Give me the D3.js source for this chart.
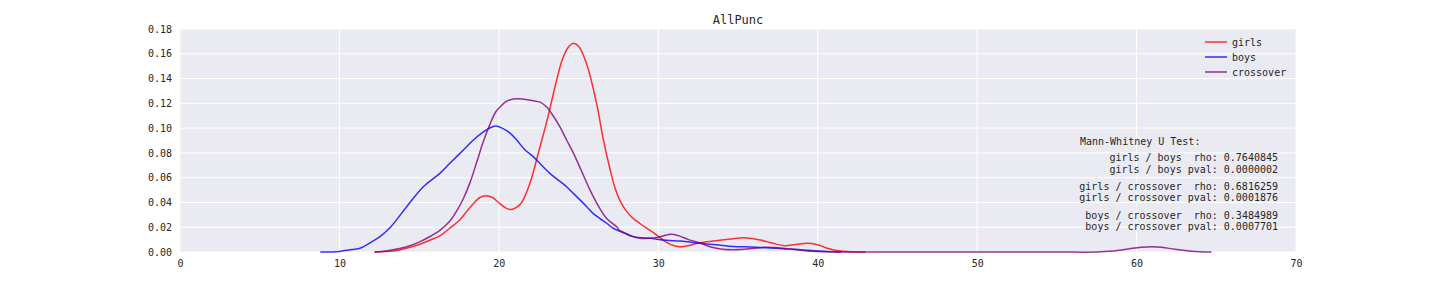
<!DOCTYPE html>
<html>
<head>
<meta charset="utf-8">
<script src="https://cdn.jsdelivr.net/npm/d3@7"></script>
<style>
  body { margin: 0; background: #fff; }
  text { font-family: "DejaVu Sans Mono", monospace; fill: #262626; }
</style>
</head>
<body>
<div id="chart"></div>
<script>
// ---- data ----
const girlsX = [12.2, 13.5, 14.2, 15.0, 15.7, 16.3, 16.9, 17.56, 18.0, 18.4, 18.8, 19.2, 19.6, 20.07, 20.5, 20.8, 21.1, 21.43, 21.95, 22.58, 23.0, 23.63, 24.0, 24.4, 24.67, 25.0, 25.5, 26.13, 26.55, 26.97, 27.3, 27.65, 28.0, 28.43, 28.85, 29.3, 29.9, 30.5, 31.0, 31.4, 32.0, 32.6, 33.6, 34.5, 35.5, 36.4, 37.2, 37.9, 38.6, 39.4, 40.1, 40.6, 41.3, 42.2, 43.0];
const girlsY = [0, 0.001, 0.003, 0.006, 0.0097, 0.013, 0.019, 0.026, 0.033, 0.039, 0.044, 0.0455, 0.044, 0.039, 0.035, 0.0344, 0.036, 0.040, 0.0554, 0.085, 0.105, 0.139, 0.156, 0.166, 0.1685, 0.166, 0.152, 0.120, 0.091, 0.067, 0.051, 0.040, 0.033, 0.027, 0.023, 0.019, 0.0137, 0.008, 0.005, 0.0043, 0.0055, 0.0075, 0.009, 0.0105, 0.0114, 0.0097, 0.007, 0.0051, 0.006, 0.0071, 0.0055, 0.003, 0.001, 0.0002, 0];

const boysX = [8.8, 10.0, 10.8, 11.3, 12.0, 12.54, 13.2, 14.22, 15.26, 16.3, 16.93, 17.98, 18.4, 19.03, 19.5, 19.82, 20.2, 20.7, 21.12, 21.6, 22.16, 22.37, 23.2, 24.25, 24.46, 25.51, 25.92, 26.34, 26.76, 27.18, 27.8, 28.43, 29.5, 30.5, 31.4, 32.6, 33.64, 34.7, 35.8, 36.8, 37.8, 38.9, 39.8, 40.6, 41.5];
const boysY = [0, 0.0005, 0.002, 0.003, 0.008, 0.0124, 0.02, 0.0366, 0.0527, 0.0635, 0.0716, 0.085, 0.0904, 0.097, 0.1005, 0.1017, 0.100, 0.096, 0.0904, 0.083, 0.077, 0.0743, 0.0635, 0.0527, 0.050, 0.0366, 0.031, 0.027, 0.0232, 0.019, 0.0159, 0.0124, 0.011, 0.0095, 0.0088, 0.007, 0.0058, 0.0045, 0.004, 0.0035, 0.0027, 0.0019, 0.001, 0.0005, 0];

const crossX = [12.2, 13.0, 14.22, 15.0, 15.68, 16.3, 16.93, 17.35, 17.77, 18.19, 18.6, 19.02, 19.44, 19.8, 20.07, 20.4, 20.9, 21.5, 22.16, 22.58, 23.0, 23.4, 23.83, 24.25, 24.67, 25.3, 25.72, 26.34, 26.76, 27.39, 27.6, 28.0, 28.43, 28.85, 29.27, 29.8, 30.3, 30.8, 31.3, 31.9, 32.6, 33.3, 34.0, 34.7, 35.4, 36.0, 36.8, 37.6, 38.4, 39.2, 40.0, 41.0, 42.0, 45.0, 50.0, 55.0, 57.5, 58.5, 59.5, 60.3, 60.95, 61.6, 62.4, 63.3, 64.0, 64.7];
const crossY = [0, 0.001, 0.0043, 0.008, 0.0125, 0.0175, 0.025, 0.033, 0.043, 0.056, 0.072, 0.089, 0.103, 0.113, 0.117, 0.121, 0.1235, 0.1235, 0.122, 0.121, 0.117, 0.110, 0.101, 0.0904, 0.080, 0.062, 0.050, 0.035, 0.027, 0.0204, 0.017, 0.0145, 0.0124, 0.011, 0.011, 0.0115, 0.013, 0.0143, 0.013, 0.010, 0.0075, 0.004, 0.0022, 0.0018, 0.0022, 0.003, 0.0038, 0.0033, 0.0022, 0.001, 0.0004, 0.0001, 0, 0, 0, 0, 0, 0.0008, 0.0025, 0.0038, 0.0043, 0.0038, 0.0022, 0.0008, 0.0002, 0];

const seriesNames = ["girls", "boys", "crossover"];
const seriesColors = ["#ff0000", "#0000ff", "#800080"];
const xTicks = [0, 10, 20, 30, 40, 50, 60, 70];
const yTicks = [0, 0.02, 0.04, 0.06, 0.08, 0.10, 0.12, 0.14, 0.16, 0.18];
const statsHeader = "Mann-Whitney U Test:";
const statsLines = [
  ["girls / boys  rho: 0.7640845", "girls / boys pval: 0.0000002"],
  ["girls / crossover  rho: 0.6816259", "girls / crossover pval: 0.0001876"],
  ["boys / crossover  rho: 0.3484989", "boys / crossover pval: 0.0007701"]
];

// ---- layout ----
const W = 1440, H = 288;
const margin = { top: 29, left: 180, right: 144, bottom: 36 };
const width = W - margin.left - margin.right,
      height = H - margin.top - margin.bottom;

const svg = d3.select("#chart").append("svg")
  .attr("width", W).attr("height", H);

const g = svg.append("g")
  .attr("transform", "translate(" + margin.left + "," + margin.top + ")");

const x = d3.scaleLinear().domain([0, 70]).range([0, width]);
const y = d3.scaleLinear().domain([0, 0.18]).range([height, 0]);

g.append("rect")
  .attr("width", width).attr("height", height)
  .attr("fill", "#eaeaf2");

// grid
g.selectAll(".vgrid").data(xTicks).enter().append("line")
  .attr("x1", d => x(d)).attr("x2", d => x(d))
  .attr("y1", 0).attr("y2", height)
  .attr("stroke", "#fff").attr("stroke-width", 1);
g.selectAll(".hgrid").data(yTicks).enter().append("line")
  .attr("x1", 0).attr("x2", width)
  .attr("y1", d => y(d)).attr("y2", d => y(d))
  .attr("stroke", "#fff").attr("stroke-width", 1);

// axes (labels only, seaborn style)
const xAxis = g.append("g")
  .attr("transform", "translate(0," + height + ")")
  .call(d3.axisBottom(x).tickValues(xTicks).tickSize(0).tickPadding(8).tickFormat(d3.format("d")));
const yAxis = g.append("g")
  .call(d3.axisLeft(y).tickValues(yTicks).tickSize(0).tickPadding(8).tickFormat(d3.format(".2f")));
[xAxis, yAxis].forEach(a => {
  a.select(".domain").remove();
  a.selectAll("text").style("font-family", "DejaVu Sans Mono, monospace")
    .style("font-size", "10px").attr("fill", "#262626");
});

// curves
const allSeries = [
  d3.zip(girlsX, girlsY),
  d3.zip(boysX, boysY),
  d3.zip(crossX, crossY)
];
const line = d3.line()
  .x(d => x(d[0])).y(d => Math.min(y(d[1]), height))
  .curve(d3.curveCatmullRom.alpha(0.5));

g.selectAll(".kde").data(allSeries).enter().append("path")
  .attr("d", line)
  .attr("fill", "none")
  .attr("stroke", (d, i) => seriesColors[i])
  .attr("stroke-opacity", 0.8)
  .attr("stroke-width", 1.5);

// title
svg.append("text")
  .attr("x", margin.left + width / 2).attr("y", 20)
  .attr("text-anchor", "middle").attr("dominant-baseline", "central")
  .style("font-size", "12px")
  .text("AllPunc");

// legend
const legend = g.append("g").attr("transform", "translate(" + (width - 91) + ",13)");
seriesNames.forEach((name, i) => {
  const row = legend.append("g").attr("transform", "translate(0," + (i * 15) + ")");
  row.append("line").attr("x1", 0).attr("x2", 22)
    .attr("stroke", seriesColors[i]).attr("stroke-opacity", 0.8).attr("stroke-width", 1.5);
  row.append("text").attr("x", 27).attr("dominant-baseline", "central")
    .style("font-size", "10px").text(name);
});

// stats box text
const tx = 1278 - margin.left;
g.append("text").attr("x", 1080 - margin.left).attr("y", 141 - margin.top)
  .attr("dominant-baseline", "central").style("font-size", "10px")
  .text(statsHeader);
const groupY = [157.5, 186, 215];
statsLines.forEach((pair, i) => {
  pair.forEach((s, j) => {
    g.append("text").attr("x", tx).attr("y", groupY[i] + j * 11.5 - margin.top)
      .attr("text-anchor", "end").attr("dominant-baseline", "central")
      .style("font-size", "10px").style("white-space", "pre").attr("xml:space", "preserve")
      .text(s);
  });
});
</script>
</body>
</html>
